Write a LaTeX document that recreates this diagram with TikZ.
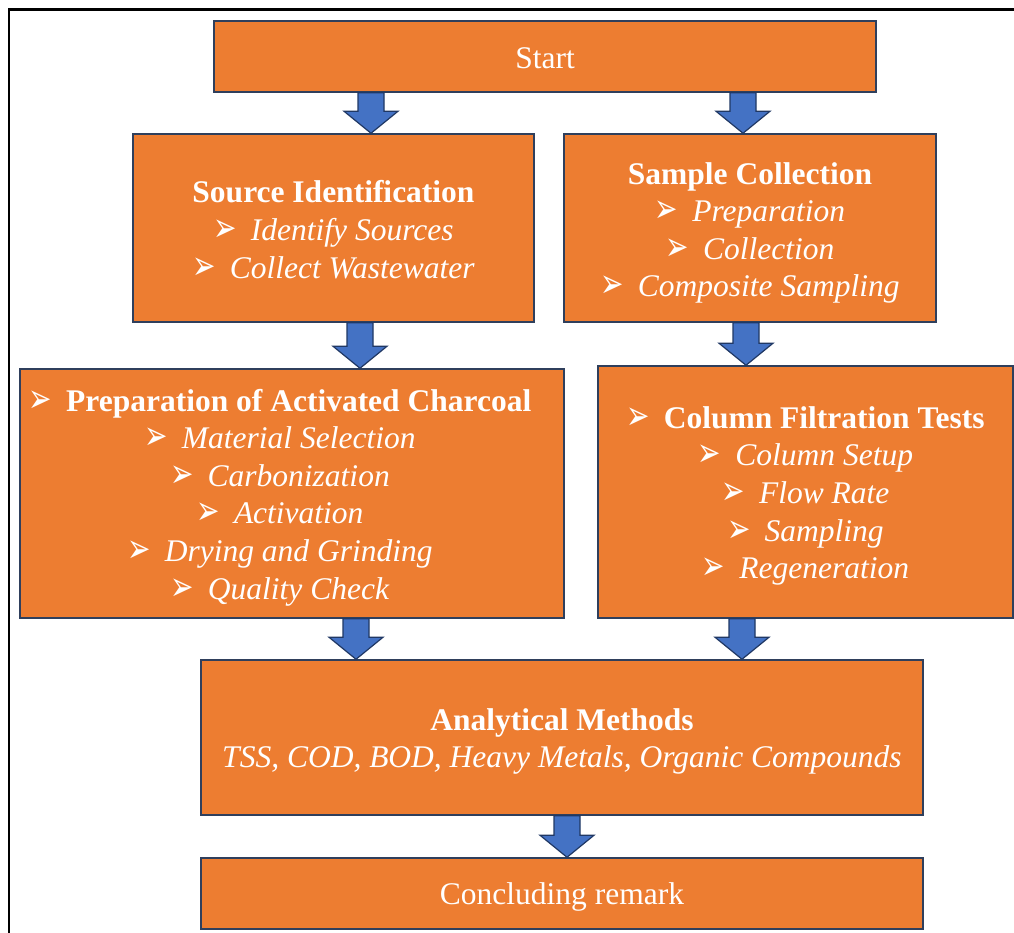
\documentclass[tikz,border=0pt]{standalone}
\usepackage{graphicx}
\usepackage{fontspec}
\setmainfont{Liberation Serif}
\newfontfamily\bulfont{DejaVu Sans}
\usetikzlibrary{calc}
\definecolor{boxfill}{HTML}{ED7D31}
\definecolor{boxline}{HTML}{2F3F5C}
\definecolor{arrfill}{HTML}{4472C4}
\definecolor{arrline}{HTML}{203864}
\newcommand\bul{\raisebox{-1pt}{\scalebox{1}[1.45]{\bulfont\fontsize{28}{28}\selectfont ➢}}\hspace{14pt}}
\newcommand\barrow[3]{%
  \draw[blockarrow] let \p1=(#2.south), \p2=(#3.north) in
    ({(#1-13)*1pt},\y1) -- ({(#1+13)*1pt},\y1) -- ({(#1+13)*1pt},{\y2+22pt})
    -- ({(#1+27)*1pt},{\y2+22pt}) -- ({#1*1pt},\y2) -- ({(#1-27)*1pt},{\y2+22pt})
    -- ({(#1-13)*1pt},{\y2+22pt}) -- cycle;}
\begin{document}
\begin{tikzpicture}[x=1pt,y=-1pt,
  box/.style={draw=boxline, line width=1.5pt, fill=boxfill, inner sep=0pt},
  boxtext/.style={text=white, align=center, inner sep=0pt, font=\fontsize{31.5}{37.6}\selectfont},
  blockarrow/.style={draw=arrline, line width=1.2pt, fill=arrfill, line join=miter}]
\useasboundingbox (0,0) rectangle (1014,933);
\clip (0,0) rectangle (1014,933);
\fill[white] (0,0) rectangle (1014,933);
\draw[line width=2.5pt] (9,945) -- (9,9.5) -- (1025,9.5);

\node[box, minimum width=662, minimum height=71] (start) at (545,56.5) {};
\node[box, minimum width=401, minimum height=188] (src) at (333.5,228) {};
\node[box, minimum width=372, minimum height=188] (samp) at (750,228) {};
\node[box, minimum width=544, minimum height=249] (prep) at (292,493.5) {};
\node[box, minimum width=415, minimum height=252] (col) at (805.5,492) {};
\node[box, minimum width=722, minimum height=155] (anal) at (562,737.5) {};
\node[box, minimum width=722, minimum height=71] (conc) at (562,893.5) {};

\node[boxtext, yshift=-2] (starttext) at (start) {Start};
\node[boxtext, yshift=-2] (srctext) at (src)
  {\textbf{Source Identification}\\ \bul\textit{Identify Sources}\\ \bul\textit{Collect Wastewater}};
\node[boxtext, yshift=-5] (samptext) at (samp)
  {\textbf{Sample Collection}\\ \bul\textit{Preparation}\\ \bul\textit{Collection}\\ \bul\textit{Composite Sampling}};
\node[boxtext, xshift=-12, yshift=-4] (preptext) at (prep)
  {\bul\textbf{Preparation of Activated Charcoal}\\ \bul\textit{Material Selection}\\ \bul\textit{Carbonization}\\
   \bul\textit{Activation}\\ \bul\textit{Drying and Grinding}\\ \bul\textit{Quality Check}};
\node[boxtext, yshift=-4] (coltext) at (col)
  {\bul\textbf{Column Filtration Tests}\\ \bul\textit{Column Setup}\\ \bul\textit{Flow Rate}\\
   \bul\textit{Sampling}\\ \bul\textit{Regeneration}};
\node[boxtext, yshift=-4] (analtext) at (anal)
  {\textbf{Analytical Methods}\\ \textit{TSS, COD, BOD, Heavy Metals, Organic Compounds}};
\node[boxtext, yshift=-3] (conctext) at (conc) {Concluding remark};

\barrow{371}{start}{src}
\barrow{743}{start}{samp}
\barrow{360}{src}{prep}
\barrow{746}{samp}{col}
\barrow{356}{prep}{anal}
\barrow{742}{col}{anal}
\barrow{567}{anal}{conc}
\end{tikzpicture}
\end{document}
